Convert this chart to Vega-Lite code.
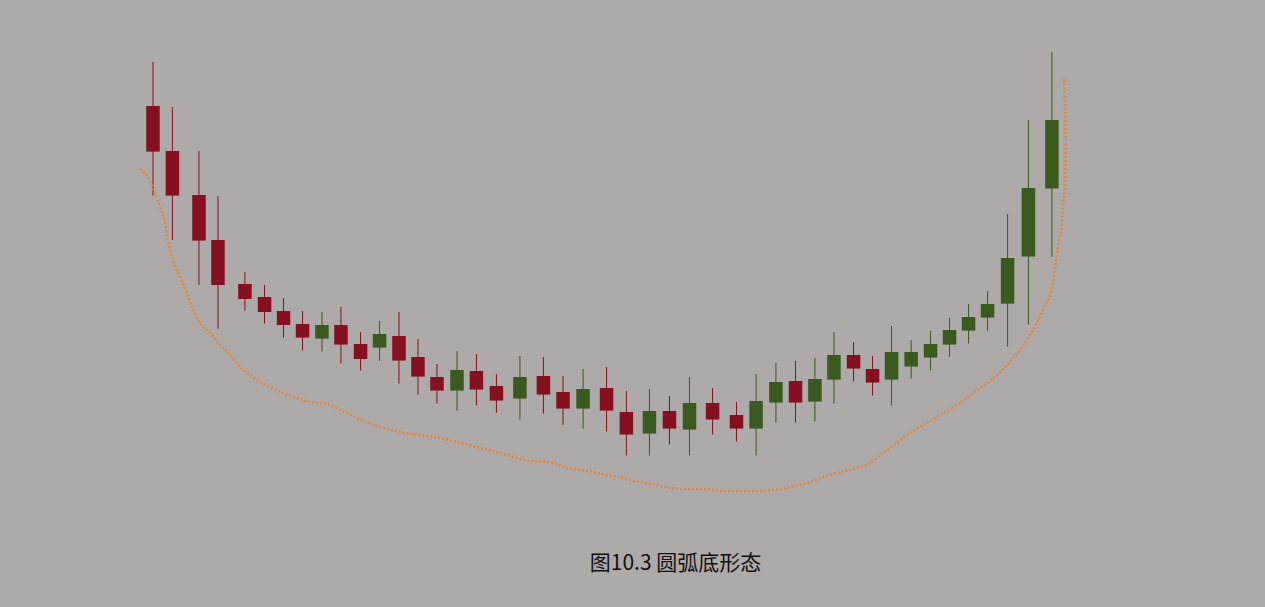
{
  "$schema": "https://vega.github.io/schema/vega-lite/v6.json",
  "width": 1265,
  "height": 530,
  "autosize": "none",
  "padding": {"left": 0, "top": 0, "right": 0, "bottom": 77},
  "background": "#aeaaa9",
  "config": {"view": {"stroke": null}},
  "title": {
    "text": "图10.3 圆弧底形态",
    "orient": "bottom",
    "anchor": "middle",
    "baseline": "top",
    "offset": 23,
    "dx": 43,
    "font": "Noto Sans CJK SC",
    "fontSize": 21,
    "fontWeight": "normal",
    "color": "#111111"
  },
  "datasets": {
    "k": [
      {"t": 0, "o": 24.70, "h": 26.90, "l": 20.22, "c": 22.42},
      {"t": 0.95, "o": 22.45, "h": 24.65, "l": 18.00, "c": 20.22},
      {"t": 2.25, "o": 20.25, "h": 22.45, "l": 15.75, "c": 17.97},
      {"t": 3.18, "o": 18.00, "h": 20.20, "l": 13.57, "c": 15.75},
      {"t": 4.50, "o": 15.80, "h": 16.40, "l": 14.47, "c": 15.05},
      {"t": 5.46, "o": 15.15, "h": 15.75, "l": 13.82, "c": 14.40},
      {"t": 6.39, "o": 14.45, "h": 15.10, "l": 13.12, "c": 13.75},
      {"t": 7.32, "o": 13.80, "h": 14.45, "l": 12.47, "c": 13.12},
      {"t": 8.27, "o": 13.07, "h": 14.40, "l": 12.42, "c": 13.75},
      {"t": 9.20, "o": 13.75, "h": 14.65, "l": 11.82, "c": 12.77},
      {"t": 10.16, "o": 12.80, "h": 13.40, "l": 11.47, "c": 12.05},
      {"t": 11.09, "o": 12.62, "h": 13.95, "l": 11.97, "c": 13.30},
      {"t": 12.04, "o": 13.20, "h": 14.40, "l": 10.82, "c": 11.97},
      {"t": 12.97, "o": 12.15, "h": 13.05, "l": 10.27, "c": 11.17},
      {"t": 13.90, "o": 11.15, "h": 11.80, "l": 9.82, "c": 10.47},
      {"t": 14.88, "o": 10.47, "h": 12.45, "l": 9.47, "c": 11.50},
      {"t": 15.83, "o": 11.45, "h": 12.30, "l": 9.72, "c": 10.52},
      {"t": 16.81, "o": 10.70, "h": 11.30, "l": 9.37, "c": 9.97},
      {"t": 17.96, "o": 10.07, "h": 12.20, "l": 9.02, "c": 11.15},
      {"t": 19.11, "o": 11.20, "h": 12.15, "l": 9.32, "c": 10.27},
      {"t": 20.07, "o": 10.40, "h": 11.20, "l": 8.77, "c": 9.57},
      {"t": 21.05, "o": 9.57, "h": 11.55, "l": 8.57, "c": 10.55},
      {"t": 22.20, "o": 10.60, "h": 11.65, "l": 8.42, "c": 9.47},
      {"t": 23.17, "o": 9.40, "h": 10.45, "l": 7.22, "c": 8.27},
      {"t": 24.30, "o": 8.32, "h": 10.55, "l": 7.22, "c": 9.45},
      {"t": 25.28, "o": 9.45, "h": 10.20, "l": 7.77, "c": 8.57},
      {"t": 26.26, "o": 8.52, "h": 11.15, "l": 7.22, "c": 9.85},
      {"t": 27.39, "o": 9.85, "h": 10.60, "l": 8.27, "c": 9.02},
      {"t": 28.56, "o": 9.25, "h": 9.90, "l": 7.92, "c": 8.57},
      {"t": 29.52, "o": 8.57, "h": 11.30, "l": 7.22, "c": 9.95},
      {"t": 30.49, "o": 9.87, "h": 11.85, "l": 8.87, "c": 10.90},
      {"t": 31.45, "o": 10.95, "h": 11.95, "l": 8.87, "c": 9.87},
      {"t": 32.40, "o": 9.92, "h": 12.10, "l": 8.92, "c": 11.05},
      {"t": 33.33, "o": 11.02, "h": 13.40, "l": 9.82, "c": 12.25},
      {"t": 34.29, "o": 12.25, "h": 12.90, "l": 10.92, "c": 11.57},
      {"t": 35.22, "o": 11.55, "h": 12.20, "l": 10.22, "c": 10.87},
      {"t": 36.15, "o": 11.02, "h": 13.70, "l": 9.72, "c": 12.40},
      {"t": 37.11, "o": 11.67, "h": 13.00, "l": 11.07, "c": 12.40},
      {"t": 38.06, "o": 12.12, "h": 13.45, "l": 11.47, "c": 12.80},
      {"t": 38.99, "o": 12.77, "h": 14.10, "l": 12.17, "c": 13.50},
      {"t": 39.92, "o": 13.47, "h": 14.80, "l": 12.82, "c": 14.15},
      {"t": 40.85, "o": 14.12, "h": 15.45, "l": 13.47, "c": 14.80},
      {"t": 41.83, "o": 14.82, "h": 19.30, "l": 12.67, "c": 17.10},
      {"t": 42.85, "o": 17.17, "h": 24.00, "l": 13.77, "c": 20.60},
      {"t": 44.00, "o": 20.57, "h": 27.40, "l": 17.17, "c": 24.00}
    ],
    "ma": [
      {"i": 1, "t": -0.64, "p": 21.55},
      {"i": 2, "t": -0.24, "p": 21.15},
      {"i": 3, "t": 0.10, "p": 20.35},
      {"i": 4, "t": 0.34, "p": 19.65},
      {"i": 5, "t": 0.59, "p": 18.85},
      {"i": 6, "t": 0.73, "p": 18.00},
      {"i": 7, "t": 0.98, "p": 17.00},
      {"i": 8, "t": 1.32, "p": 16.15},
      {"i": 9, "t": 1.66, "p": 15.35},
      {"i": 10, "t": 1.96, "p": 14.50},
      {"i": 11, "t": 2.30, "p": 13.85},
      {"i": 12, "t": 2.79, "p": 13.35},
      {"i": 13, "t": 3.28, "p": 12.75},
      {"i": 14, "t": 3.77, "p": 12.25},
      {"i": 15, "t": 4.26, "p": 11.65},
      {"i": 16, "t": 4.60, "p": 11.35},
      {"i": 17, "t": 5.09, "p": 11.00},
      {"i": 18, "t": 5.73, "p": 10.65},
      {"i": 19, "t": 6.36, "p": 10.35},
      {"i": 20, "t": 7.05, "p": 10.10},
      {"i": 21, "t": 7.68, "p": 9.90},
      {"i": 22, "t": 8.52, "p": 9.80},
      {"i": 23, "t": 9.15, "p": 9.50},
      {"i": 24, "t": 10.13, "p": 9.05},
      {"i": 25, "t": 11.11, "p": 8.65},
      {"i": 26, "t": 12.09, "p": 8.40},
      {"i": 27, "t": 13.07, "p": 8.25},
      {"i": 28, "t": 14.05, "p": 8.10},
      {"i": 29, "t": 14.68, "p": 7.95},
      {"i": 30, "t": 15.37, "p": 7.80},
      {"i": 31, "t": 16.01, "p": 7.60},
      {"i": 32, "t": 16.84, "p": 7.40},
      {"i": 33, "t": 17.33, "p": 7.25},
      {"i": 34, "t": 17.82, "p": 7.10},
      {"i": 35, "t": 18.45, "p": 6.95},
      {"i": 36, "t": 19.29, "p": 6.90},
      {"i": 37, "t": 19.78, "p": 6.80},
      {"i": 38, "t": 20.26, "p": 6.60},
      {"i": 39, "t": 20.90, "p": 6.50},
      {"i": 40, "t": 21.54, "p": 6.40},
      {"i": 41, "t": 22.22, "p": 6.25},
      {"i": 42, "t": 22.86, "p": 6.15},
      {"i": 43, "t": 23.49, "p": 5.95},
      {"i": 44, "t": 24.18, "p": 5.85},
      {"i": 45, "t": 24.82, "p": 5.70},
      {"i": 46, "t": 25.31, "p": 5.60},
      {"i": 47, "t": 26.14, "p": 5.55},
      {"i": 48, "t": 27.12, "p": 5.55},
      {"i": 49, "t": 27.75, "p": 5.45},
      {"i": 50, "t": 28.73, "p": 5.45},
      {"i": 51, "t": 29.71, "p": 5.45},
      {"i": 52, "t": 30.35, "p": 5.50},
      {"i": 53, "t": 31.18, "p": 5.65},
      {"i": 54, "t": 32.01, "p": 5.85},
      {"i": 55, "t": 32.79, "p": 6.15},
      {"i": 56, "t": 33.63, "p": 6.40},
      {"i": 57, "t": 34.46, "p": 6.60},
      {"i": 58, "t": 35.10, "p": 6.85},
      {"i": 59, "t": 35.73, "p": 7.35},
      {"i": 60, "t": 36.42, "p": 7.85},
      {"i": 61, "t": 37.05, "p": 8.35},
      {"i": 62, "t": 37.69, "p": 8.75},
      {"i": 63, "t": 38.52, "p": 9.25},
      {"i": 64, "t": 39.35, "p": 9.75},
      {"i": 65, "t": 40.14, "p": 10.35},
      {"i": 66, "t": 40.82, "p": 10.85},
      {"i": 67, "t": 41.46, "p": 11.35},
      {"i": 68, "t": 41.80, "p": 11.75},
      {"i": 69, "t": 42.44, "p": 12.50},
      {"i": 70, "t": 43.07, "p": 13.50},
      {"i": 71, "t": 43.56, "p": 14.50},
      {"i": 72, "t": 44.00, "p": 15.65},
      {"i": 73, "t": 44.15, "p": 16.65},
      {"i": 74, "t": 44.35, "p": 18.00},
      {"i": 75, "t": 44.49, "p": 18.85},
      {"i": 76, "t": 44.54, "p": 19.65},
      {"i": 77, "t": 44.64, "p": 21.00},
      {"i": 78, "t": 44.69, "p": 23.00},
      {"i": 79, "t": 44.64, "p": 24.65},
      {"i": 80, "t": 44.59, "p": 26.15}
    ]
  },
  "layer": [
    {
      "data": {"name": "k"},
      "mark": {"type": "rule", "strokeWidth": 1},
      "encoding": {
        "x": {"field": "t", "type": "quantitative", "axis": null, "scale": {"domain": [-7.489, 54.43], "nice": false, "zero": false, "padding": 0}},
        "y": {"field": "l", "type": "quantitative", "axis": null, "scale": {"domain": [3.5, 30], "nice": false, "zero": false, "padding": 0}},
        "y2": {"field": "h"},
        "color": {"condition": {"test": "datum.o > datum.c", "value": "#86101f"}, "value": "#3a5a1f"}
      }
    },
    {
      "data": {"name": "k"},
      "mark": {"type": "bar", "width": 13.5},
      "encoding": {
        "x": {"field": "t", "type": "quantitative"},
        "y": {"field": "o", "type": "quantitative"},
        "y2": {"field": "c"},
        "color": {"condition": {"test": "datum.o > datum.c", "value": "#86101f"}, "value": "#3a5a1f"}
      }
    },
    {
      "data": {"name": "ma"},
      "mark": {"type": "line", "color": "#e8873a", "strokeWidth": 2.4, "strokeDash": [2, 2], "interpolate": "monotone"},
      "encoding": {
        "x": {"field": "t", "type": "quantitative"},
        "y": {"field": "p", "type": "quantitative"},
        "order": {"field": "i", "type": "quantitative"}
      }
    }
  ]
}
